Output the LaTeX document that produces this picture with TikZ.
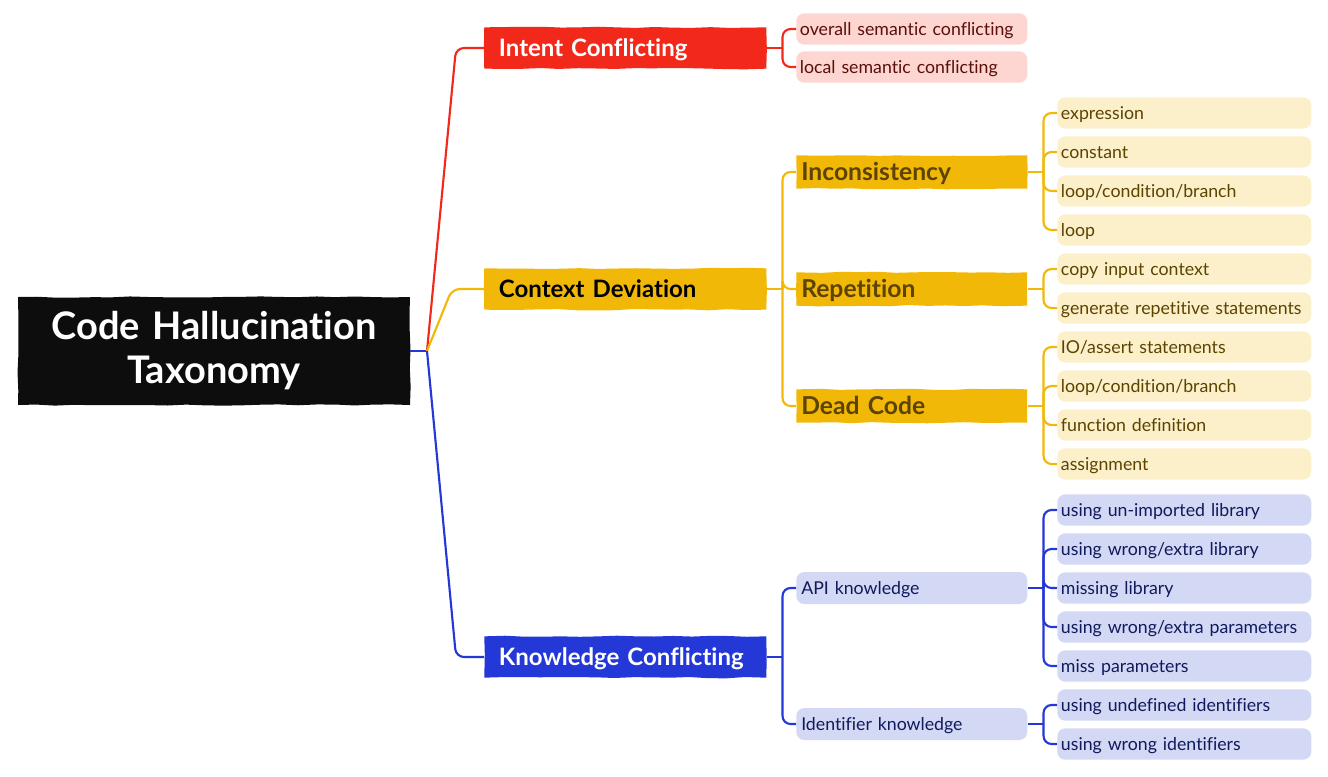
\documentclass[tikz,border=0pt]{standalone}
\usepackage{fontspec}
\setmainfont{Lato}[Ligatures=NoCommon]
\usetikzlibrary{decorations.pathmorphing}

\definecolor{icred}{HTML}{F2281A}
\definecolor{cdyellow}{HTML}{F2B807}
\definecolor{kcblue}{HTML}{2338D6}
\definecolor{icleaf}{HTML}{FDD5D1}
\definecolor{cdleaf}{HTML}{FCF0CB}
\definecolor{kcleaf}{HTML}{D3D8F5}
\definecolor{ictext}{HTML}{5A0F0A}
\definecolor{cdtext}{HTML}{5C4300}
\definecolor{kctext}{HTML}{101A5C}

\begin{document}
\begin{tikzpicture}
	[
		x=0.75pt, y=-0.75pt,
		brush/.style={fill=#1, decorate, decoration={random steps, segment length=14pt, amplitude=0.5pt}},
		mainbox/.style={brush=#1, anchor=west, inner xsep=11pt, inner ysep=2pt, text width=189.5pt, text height=17pt, text depth=4pt, minimum height=31pt, align=left, font=\fontsize{18}{21}\selectfont\bfseries},
		midbox/.style={anchor=west, inner xsep=3.75pt, inner ysep=2pt, text width=165.75pt, text height=12pt, text depth=3pt, minimum height=24pt, align=left, font=\fontsize{13.3}{16}\selectfont},
		midbrush/.style={midbox, brush=#1, text height=17pt, text depth=4pt, font=\fontsize{18.5}{21}\selectfont\bfseries},
		leaf/.style={fill=#1, rounded corners=6pt, anchor=west, inner xsep=2.75pt, inner ysep=2pt, text width=185pt, text height=12pt, text depth=3pt, minimum height=23.5pt, align=left, font=\fontsize{13.3}{16}\selectfont},
		twig/.style={draw=#1, line width=1.6pt, rounded corners=6pt},
		node distance=5mm and 5mm
	]

	\def\fork{12pt}

	\useasboundingbox (0,0) rectangle (1328,776);

	% root
	\node
	[brush=black!95, text=white, align=center, text width=294pt, inner xsep=0pt, minimum height=81pt, font=\fontsize{28.5}{33}\selectfont\bfseries]
	(root) at (214,351)
	{Code Hallucination\\Taxonomy};

	\coordinate (hub) at (427,351);
	\coordinate (icbend) at (456,48);
	\coordinate (cdbend) at (452,289);
	\coordinate (kcbend) at (456,657);

	% main branches
	\node [mainbox=icred, text=white] (intent) at (484,48) {Intent Conflicting};
	\node [mainbox=cdyellow, text=black] (context) at (484,289) {Context Deviation};
	\node [mainbox=kcblue, text=white] (knowledge) at (484,657) {Knowledge Conflicting};

	% intent conflicting
	\node [leaf=icleaf, text=ictext, text width=167.75pt] (overall) at (796,29) {overall semantic conflicting};
	\node [leaf=icleaf, text=ictext, text width=167.75pt] (local) at (796,67) {local semantic conflicting};

	% context deviation
	\node [midbrush=cdyellow, text=cdtext] (incons) at (796,172) {Inconsistency};
	\node [midbrush=cdyellow, text=cdtext] (repet) at (796,289) {Repetition};
	\node [midbrush=cdyellow, text=cdtext] (dead) at (796,406) {Dead Code};

	\node [leaf=cdleaf, text=cdtext] (incexpr) at (1057,113) {expression};
	\node [leaf=cdleaf, text=cdtext] (incconst) at (1057,152) {constant};
	\node [leaf=cdleaf, text=cdtext] (incbranch) at (1057,191) {loop/condition/branch};
	\node [leaf=cdleaf, text=cdtext] (incloop) at (1057,230) {loop};

	\node [leaf=cdleaf, text=cdtext] (repcopy) at (1057,269) {copy input context};
	\node [leaf=cdleaf, text=cdtext] (repgen) at (1057,308) {generate repetitive statements};

	\node [leaf=cdleaf, text=cdtext] (deadio) at (1057,347) {IO/assert statements};
	\node [leaf=cdleaf, text=cdtext] (deadbranch) at (1057,386) {loop/condition/branch};
	\node [leaf=cdleaf, text=cdtext] (deadfunc) at (1057,425) {function definition};
	\node [leaf=cdleaf, text=cdtext] (deadassign) at (1057,464) {assignment};

	% knowledge conflicting
	\node [midbox, fill=kcleaf, rounded corners=6pt, text=kctext] (api) at (796,588) {API knowledge};
	\node [midbox, fill=kcleaf, rounded corners=6pt, text=kctext] (ident) at (796,724) {Identifier knowledge};

	\node [leaf=kcleaf, text=kctext] (apiunimp) at (1057,510) {using un-imported library};
	\node [leaf=kcleaf, text=kctext] (apiwronglib) at (1057,549) {using wrong/extra library};
	\node [leaf=kcleaf, text=kctext] (apimiss) at (1057,588) {missing library};
	\node [leaf=kcleaf, text=kctext] (apiwrongpar) at (1057,627) {using wrong/extra parameters};
	\node [leaf=kcleaf, text=kctext] (apimisspar) at (1057,666) {miss parameters};

	\node [leaf=kcleaf, text=kctext] (identundef) at (1057,705) {using undefined identifiers};
	\node [leaf=kcleaf, text=kctext] (identwrong) at (1057,744) {using wrong identifiers};

	% connectors from the root
	\draw [twig=kcblue] (root.east) -- (hub);
	\draw [twig=icred] (hub) -- (icbend) -- (intent.west);
	\draw [twig=cdyellow] (hub) -- (cdbend) -- (context.west);
	\draw [twig=kcblue] (hub) -- (kcbend) -- (knowledge.west);

	% forks
	\draw [twig=icred] (intent.east) -- ++(\fork,0);
	\draw [twig=icred] ([xshift=\fork]intent.east) |- (overall.west);
	\draw [twig=icred] ([xshift=\fork]intent.east) |- (local.west);

	\draw [twig=cdyellow] (context.east) -- ++(\fork,0);
	\draw [twig=cdyellow] ([xshift=\fork]context.east) |- (incons.west);
	\draw [twig=cdyellow] ([xshift=\fork]context.east) |- (repet.west);
	\draw [twig=cdyellow] ([xshift=\fork]context.east) |- (dead.west);

	\draw [twig=cdyellow] (incons.east) -- ++(\fork,0);
	\draw [twig=cdyellow] ([xshift=\fork]incons.east) |- (incexpr.west);
	\draw [twig=cdyellow] ([xshift=\fork]incons.east) |- (incconst.west);
	\draw [twig=cdyellow] ([xshift=\fork]incons.east) |- (incbranch.west);
	\draw [twig=cdyellow] ([xshift=\fork]incons.east) |- (incloop.west);

	\draw [twig=cdyellow] (repet.east) -- ++(\fork,0);
	\draw [twig=cdyellow] ([xshift=\fork]repet.east) |- (repcopy.west);
	\draw [twig=cdyellow] ([xshift=\fork]repet.east) |- (repgen.west);

	\draw [twig=cdyellow] (dead.east) -- ++(\fork,0);
	\draw [twig=cdyellow] ([xshift=\fork]dead.east) |- (deadio.west);
	\draw [twig=cdyellow] ([xshift=\fork]dead.east) |- (deadbranch.west);
	\draw [twig=cdyellow] ([xshift=\fork]dead.east) |- (deadfunc.west);
	\draw [twig=cdyellow] ([xshift=\fork]dead.east) |- (deadassign.west);

	\draw [twig=kcblue] (knowledge.east) -- ++(\fork,0);
	\draw [twig=kcblue] ([xshift=\fork]knowledge.east) |- (api.west);
	\draw [twig=kcblue] ([xshift=\fork]knowledge.east) |- (ident.west);

	\draw [twig=kcblue] (api.east) -- ++(\fork,0);
	\draw [twig=kcblue] ([xshift=\fork]api.east) |- (apiunimp.west);
	\draw [twig=kcblue] ([xshift=\fork]api.east) |- (apiwronglib.west);
	\draw [twig=kcblue] ([xshift=\fork]api.east) |- (apimiss.west);
	\draw [twig=kcblue] ([xshift=\fork]api.east) |- (apiwrongpar.west);
	\draw [twig=kcblue] ([xshift=\fork]api.east) |- (apimisspar.west);

	\draw [twig=kcblue] (ident.east) -- ++(\fork,0);
	\draw [twig=kcblue] ([xshift=\fork]ident.east) |- (identundef.west);
	\draw [twig=kcblue] ([xshift=\fork]ident.east) |- (identwrong.west);

\end{tikzpicture}
\end{document}
